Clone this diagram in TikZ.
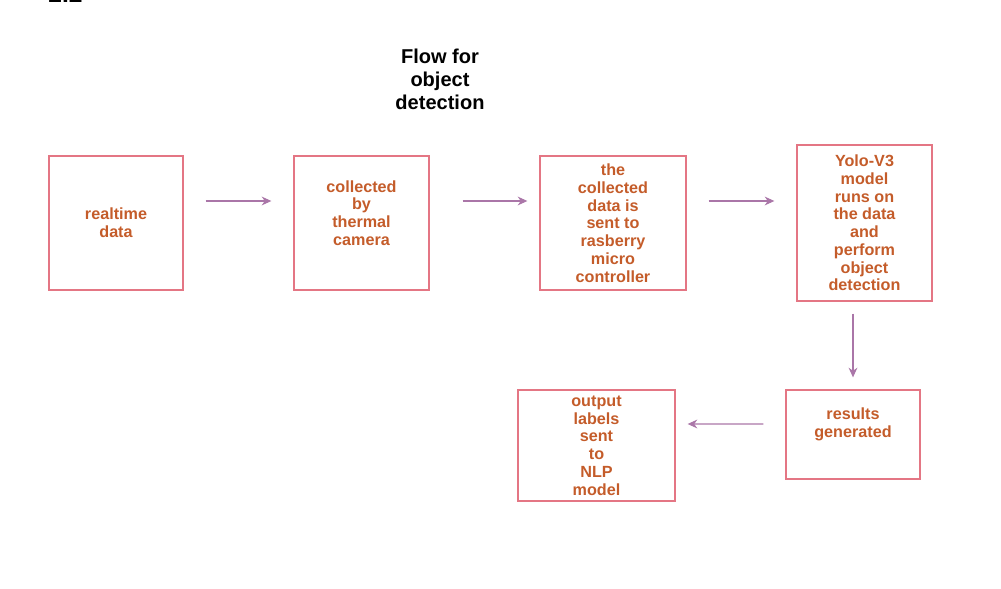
\documentclass[tikz,border=0pt]{standalone}
\usepackage{fontspec}
\setmainfont{Liberation Sans}
\usetikzlibrary{arrows.meta}
\definecolor{boxred}{RGB}{228,118,132}
\definecolor{txtbrown}{RGB}{196,92,42}
\definecolor{arrpurple}{RGB}{170,118,168}
\tikzset{
	stepbox/.style={draw=boxred, line width=0.75pt, inner sep=0pt, align=center, text=txtbrown, font=\bfseries\fontsize{9.2}{10.1}\selectfont},
	steptext/.style={align=center, inner sep=0pt, text=txtbrown, font=\bfseries\fontsize{9.2}{10.1}\selectfont},
	flow/.style={draw=arrpurple, line width=0.6pt, -{Stealth[length=5.5pt,width=5pt]}},
}
\begin{document}
\begin{tikzpicture}
			\useasboundingbox (0,0) rectangle (20.02,-11.78);
			\node[anchor=base west, inner sep=0pt, font=\bfseries\fontsize{14}{16}\selectfont] (sec) at (0.96,-0.06) {2.2};
			\node[align=center, inner sep=0pt, font=\bfseries\fontsize{11.4}{13.1}\selectfont] (title) at (8.8,-1.58) {Flow for\\object\\detection};

			% top row
			\node[stepbox, minimum width=2.68cm, minimum height=2.68cm] (rt) at (2.32,-4.46) {realtime\\data};
			\node[stepbox, minimum width=2.7cm, minimum height=2.68cm] (cam) at (7.23,-4.46) {};
			\node[steptext] (camtxt) at ([yshift=0.2cm]cam.center) {collected\\by\\thermal\\camera};
			\node[stepbox, minimum width=2.92cm, minimum height=2.68cm] (rasp) at (12.26,-4.46) {the\\collected\\data is\\sent to\\rasberry\\micro\\controller};
			\node[stepbox, minimum width=2.7cm, minimum height=3.12cm] (yolo) at (17.29,-4.46) {Yolo-V3\\model\\runs on\\the data\\and\\perform\\object\\detection};

			% bottom row
			\node[stepbox, minimum width=2.68cm, minimum height=1.78cm] (res) at (17.06,-8.69) {};
			\node[steptext] (restxt) at ([yshift=0.21cm]res.center) {results\\generated};
			\node[stepbox, minimum width=3.14cm, minimum height=2.22cm] (out) at (11.93,-8.91) {output\\labels\\sent\\to\\NLP\\model};

			\draw[flow, shorten <=0.44cm, shorten >=0.44cm] ([yshift=0.44cm]rt.east) -- ([yshift=0.44cm]cam.west);
			\draw[flow, shorten <=0.66cm, shorten >=0.24cm] ([yshift=0.44cm]cam.east) -- ([yshift=0.44cm]rasp.west);
			\draw[flow, shorten <=0.44cm, shorten >=0.44cm] ([yshift=0.44cm]rasp.east) -- ([yshift=0.44cm]yolo.west);
			\draw[flow, shorten <=0.24cm, shorten >=0.24cm] ([xshift=-0.23cm]yolo.south) -- (res.north);
			\draw[flow, shorten <=0.44cm, shorten >=0.24cm] ([yshift=0.21cm]res.west) -- ([yshift=0.43cm]out.east);
	\end{tikzpicture}
\end{document}
